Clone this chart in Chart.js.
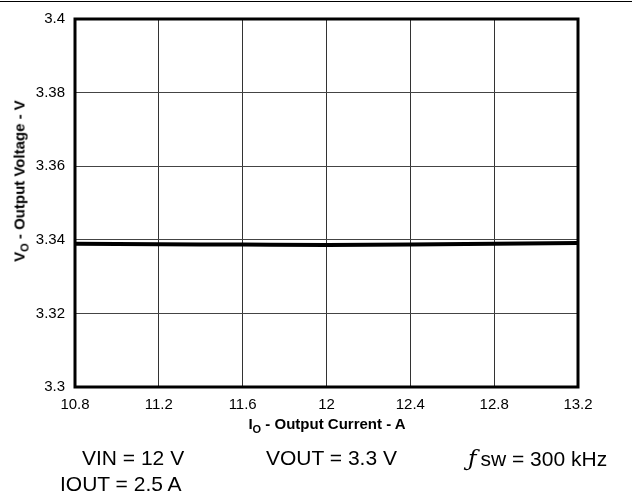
<!DOCTYPE html>
<html>
<head>
<meta charset="utf-8">
<script src="https://cdn.jsdelivr.net/npm/chart.js@4/dist/chart.umd.min.js"></script>
<style>
  body { margin: 0; background: #fff; font-family: "Liberation Sans", Arial, sans-serif; }
  #wrap { position: relative; width: 632px; height: 494px; overflow: hidden; }
  #topline { position: absolute; left: 0; top: 1px; width: 632px; height: 1px; background: #000; }
  .t { position: absolute; white-space: nowrap; color: #000; line-height: 24px; }
  .note { font-size: 21px; }
  .axt { font-size: 15px; font-weight: bold; line-height: 18px; }
  .axt sub { font-size: 11px; }
  #ytitle { left: 22px; top: 181px; transform: translate(-50%, -50%) rotate(-90deg); }
  #xtitle { left: 327px; top: 426px; transform: translate(-50%, -50%); }
</style>
</head>
<body>
<div id="wrap">
  <canvas id="c" width="632" height="494"></canvas>
  <div id="topline"></div>
  <div class="t axt" id="ytitle">V<sub>O</sub> - Output Voltage - V</div>
  <div class="t axt" id="xtitle">I<sub>O</sub> - Output Current - A</div>
  <div class="t note" style="left:82px;top:446px">VIN = 12 V</div>
  <div class="t note" style="left:266px;top:446px">VOUT = 3.3 V</div>
  <div class="t note" style="left:468px;top:446px"><i style="font-family:'DejaVu Serif',serif;font-size:23px;margin-right:4px">ƒ</i>sw = 300 kHz</div>
  <div class="t note" style="left:60px;top:472px">IOUT = 2.5 A</div>
</div>
<script>
// output current (A) and output voltage (V)
var current = [10.8, 11.2, 11.6, 12.0, 12.4, 12.8, 13.2];
var voltage = [3.3389, 3.3388, 3.3387, 3.3386, 3.3387, 3.3389, 3.3391];

var xMin = 10.8, xMax = 13.2, xStep = 0.4;
var yMin = 3.3, yMax = 3.4, yStep = 0.02;

var points = [];
for (var i = 0; i < current.length; i++) {
  points.push({x: current[i], y: voltage[i]});
}

// black frame round the plot area
var frame = {
  id: 'frame',
  afterDraw: function(chart) {
    var a = chart.chartArea, c = chart.ctx;
    c.save();
    c.strokeStyle = '#000';
    c.lineWidth = 3;
    c.strokeRect(a.left, a.top, a.right - a.left, a.bottom - a.top);
    c.restore();
  }
};

var tickFont = {family: '"Liberation Sans", Arial, sans-serif', size: 15};

new Chart(document.getElementById('c'), {
  type: 'line',
  data: {
    datasets: [{
      data: points,
      borderColor: '#000',
      borderWidth: 4,
      pointRadius: 0,
      fill: false,
      cubicInterpolationMode: 'monotone'
    }]
  },
  options: {
    responsive: false,
    animation: false,
    layout: {padding: {top: 12, right: 54, left: 0, bottom: 0}},
    plugins: {legend: {display: false}, tooltip: {enabled: false}},
    scales: {
      x: {
        type: 'linear', min: xMin, max: xMax,
        border: {display: false},
        grid: {color: '#333', lineWidth: 1, drawTicks: false},
        ticks: {
          stepSize: xStep, color: '#000', font: tickFont, padding: 9, maxRotation: 0,
          callback: function(v) { return String(Number(v.toFixed(1))); }
        },
        afterFit: function(s) { s.height = 107; }
      },
      y: {
        min: yMin, max: yMax,
        border: {display: false},
        grid: {color: '#444', lineWidth: 1, drawTicks: false},
        ticks: {
          stepSize: yStep, color: '#000', font: tickFont, padding: 10,
          callback: function(v) { return String(Number(v.toFixed(2))); }
        },
        afterFit: function(s) { s.width = 75; }
      }
    }
  },
  plugins: [frame]
});
</script>
</body>
</html>
